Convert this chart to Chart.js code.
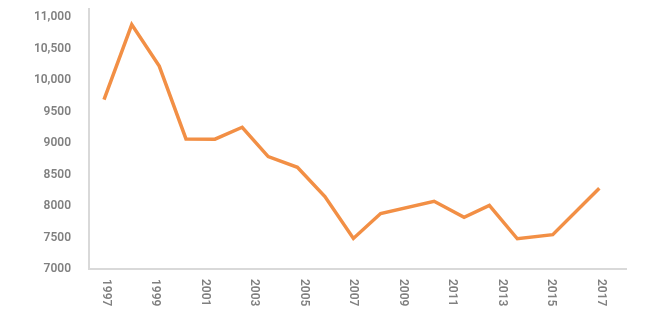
<!DOCTYPE html>
<html lang="en">
<head>
    <meta charset="UTF-8">
    <title>Line chart 1997-2017</title>
    <script src="https://cdn.jsdelivr.net/npm/chart.js"></script>
    <style>
        html, body { margin: 0; padding: 0; background: #fff; }
        #wrap { width: 656px; height: 333px; }
    </style>
</head>
<body>
<div id="wrap"><canvas id="lineChart" width="656" height="333"></canvas></div>
<script>
    // data (x in decimal years, as plotted)
    const years = [1997, 1998.12, 1999.23, 2000.31, 2001.48, 2002.58, 2003.63, 2004.81, 2005.92,
                   2007.07, 2008.17, 2010.33, 2011.54, 2012.56, 2013.69, 2015.12, 2017];
    const values = [9690, 10880, 10220, 9065, 9060, 9250, 8785, 8615, 8150,
                    7485, 7880, 8075, 7820, 8010, 7480, 7545, 8280];

    // tick labels
    const yearLabels = ['1997', '1999', '2001', '2003', '2005', '2007', '2009', '2011', '2013', '2015', '2017'];
    const yTickValues = [7000, 7500, 8000, 8500, 9000, 9500, 10000, 10500, 11000];
    const yTickLabels = ['7000', '7500', '8000', '8500', '9000', '9500', '10,000', '10,500', '11,000'];

    const tickFont = '600 12px Roboto';
    const tickColor = '#808080';

    // draw the year labels rotated clockwise (top to bottom)
    const yearLabelPlugin = {
        id: 'yearLabels',
        afterDraw(chart) {
            const ctx = chart.ctx;
            const xs = chart.scales.x;
            ctx.save();
            ctx.font = tickFont;
            ctx.fillStyle = tickColor;
            ctx.textAlign = 'left';
            ctx.textBaseline = 'middle';
            yearLabels.forEach(lbl => {
                const px = xs.getPixelForValue(Number(lbl)) + 1.5;
                ctx.save();
                ctx.translate(px, chart.chartArea.bottom + 10);
                ctx.rotate(Math.PI / 2);
                ctx.fillText(lbl, 0, 0);
                ctx.restore();
            });
            ctx.restore();
        }
    };

    const ctx = document.getElementById('lineChart').getContext('2d');
    const chart = new Chart(ctx, {
        type: 'line',
        data: {
            datasets: [{
                data: years.map((y, i) => ({ x: y, y: values[i] })),
                borderColor: '#f28f45',
                borderWidth: 3.5,
                pointRadius: 0,
                tension: 0,
                fill: false
            }]
        },
        options: {
            responsive: false,
            animation: false,
            layout: { padding: { top: 9, right: 30, left: 0, bottom: 0 } },
            plugins: { legend: { display: false }, tooltip: { enabled: false } },
            scales: {
                x: {
                    type: 'linear',
                    min: 1996.394,
                    max: 2018.078,
                    grid: { display: false },
                    border: { display: true, color: '#d9d9d9', width: 2 },
                    ticks: { display: false },
                    afterFit: s => {
                        s.height = 64;
                        s.paddingLeft = 0; s.paddingRight = 0;
                    }
                },
                y: {
                    min: 7000,
                    max: 11127,
                    grid: { display: false },
                    border: { display: true, color: '#d9d9d9', width: 2 },
                    afterBuildTicks: s => { s.ticks = yTickValues.map(v => ({ value: v })); },
                    ticks: {
                        padding: 10,
                        color: tickColor,
                        font: { family: 'Roboto', size: 12, weight: '600' },
                        callback: v => yTickLabels[yTickValues.indexOf(v)]
                    },
                    afterFit: s => {
                        s.width = 89;
                        s.paddingTop = 0; s.paddingBottom = 0;
                    }
                }
            }
        },
        plugins: [yearLabelPlugin]
    });
</script>
</body>
</html>
